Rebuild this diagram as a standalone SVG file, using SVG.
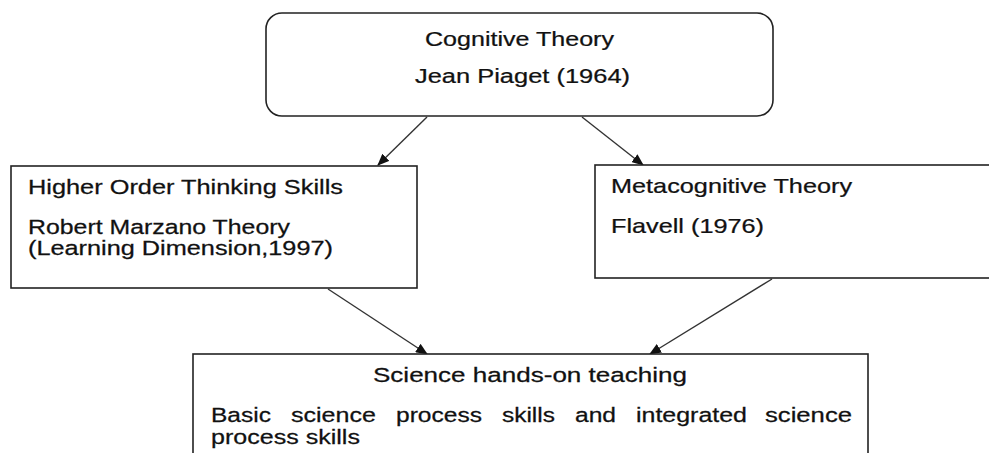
<svg xmlns="http://www.w3.org/2000/svg" width="989" height="453" viewBox="0 0 989 453">
<defs>
<style>
.box{fill:#fff;stroke:#222;stroke-width:1.6}
.t{font-family:"Liberation Sans",Arial,sans-serif;fill:#111;stroke:#111;stroke-width:0.25}
.c{stroke:#333;stroke-width:1.4;fill:none}
</style>
<marker id="ah" markerWidth="12" markerHeight="10" refX="11" refY="5" orient="auto" markerUnits="userSpaceOnUse">
<path d="M0,0 L12,5 L0,10 Z" fill="#111"/>
</marker>
</defs>
<rect width="989" height="453" fill="#fff"/>
<g id="connectors">
<line class="c" x1="427" y1="117" x2="378" y2="165" marker-end="url(#ah)"/>
<line class="c" x1="582" y1="117" x2="643" y2="165" marker-end="url(#ah)"/>
<line class="c" x1="328" y1="289" x2="427" y2="354" marker-end="url(#ah)"/>
<line class="c" x1="772" y1="279" x2="650" y2="354" marker-end="url(#ah)"/>
</g>
<g id="cognitive">
<rect class="box" x="266" y="13" width="507" height="103" rx="16"/>
<text class="t" transform="translate(425,46) scale(1.2,1)" font-size="21" textLength="157.5" lengthAdjust="spacingAndGlyphs">Cognitive Theory</text>
<text class="t" transform="translate(415,83) scale(1.2,1)" font-size="21" textLength="179.2" lengthAdjust="spacingAndGlyphs">Jean Piaget (1964)</text>
</g>
<g id="hots">
<rect class="box" x="11" y="166" width="406" height="122"/>
<text class="t" transform="translate(28,194) scale(1.3,1)" font-size="19.5" textLength="242.3" lengthAdjust="spacingAndGlyphs">Higher Order Thinking Skills</text>
<text class="t" transform="translate(28,233.5) scale(1.3,1)" font-size="19.5" textLength="201.5" lengthAdjust="spacingAndGlyphs">Robert Marzano Theory</text>
<text class="t" transform="translate(28,255) scale(1.3,1)" font-size="19.5" textLength="234.6" lengthAdjust="spacingAndGlyphs">(Learning Dimension,1997)</text>
</g>
<g id="metacognitive">
<rect class="box" x="595" y="165" width="400" height="113"/>
<text class="t" transform="translate(611,193) scale(1.26,1)" font-size="20" textLength="191.3" lengthAdjust="spacingAndGlyphs">Metacognitive Theory</text>
<text class="t" transform="translate(611,233) scale(1.26,1)" font-size="20" textLength="121.4" lengthAdjust="spacingAndGlyphs">Flavell (1976)</text>
</g>
<g id="science">
<rect class="box" x="193" y="354" width="675" height="110"/>
<text class="t" transform="translate(373,382) scale(1.3,1)" font-size="19.5" textLength="241.5" lengthAdjust="spacingAndGlyphs">Science hands-on teaching</text>
<text class="t" transform="translate(211,422) scale(1.27,1)" font-size="19.5" textLength="47.2" lengthAdjust="spacingAndGlyphs">Basic</text>
<text class="t" transform="translate(291,422) scale(1.27,1)" font-size="19.5" textLength="66.9" lengthAdjust="spacingAndGlyphs">science</text>
<text class="t" transform="translate(396,422) scale(1.27,1)" font-size="19.5" textLength="67.7" lengthAdjust="spacingAndGlyphs">process</text>
<text class="t" transform="translate(502,422) scale(1.27,1)" font-size="19.5" textLength="41.7" lengthAdjust="spacingAndGlyphs">skills</text>
<text class="t" transform="translate(575,422) scale(1.27,1)" font-size="19.5" textLength="32.3" lengthAdjust="spacingAndGlyphs">and</text>
<text class="t" transform="translate(636,422) scale(1.27,1)" font-size="19.5" textLength="87.4" lengthAdjust="spacingAndGlyphs">integrated</text>
<text class="t" transform="translate(765,422) scale(1.27,1)" font-size="19.5" textLength="68.5" lengthAdjust="spacingAndGlyphs">science</text>
<text class="t" transform="translate(211,444) scale(1.27,1)" font-size="19.5" textLength="117.3" lengthAdjust="spacingAndGlyphs">process skills</text>
</g>
</svg>
